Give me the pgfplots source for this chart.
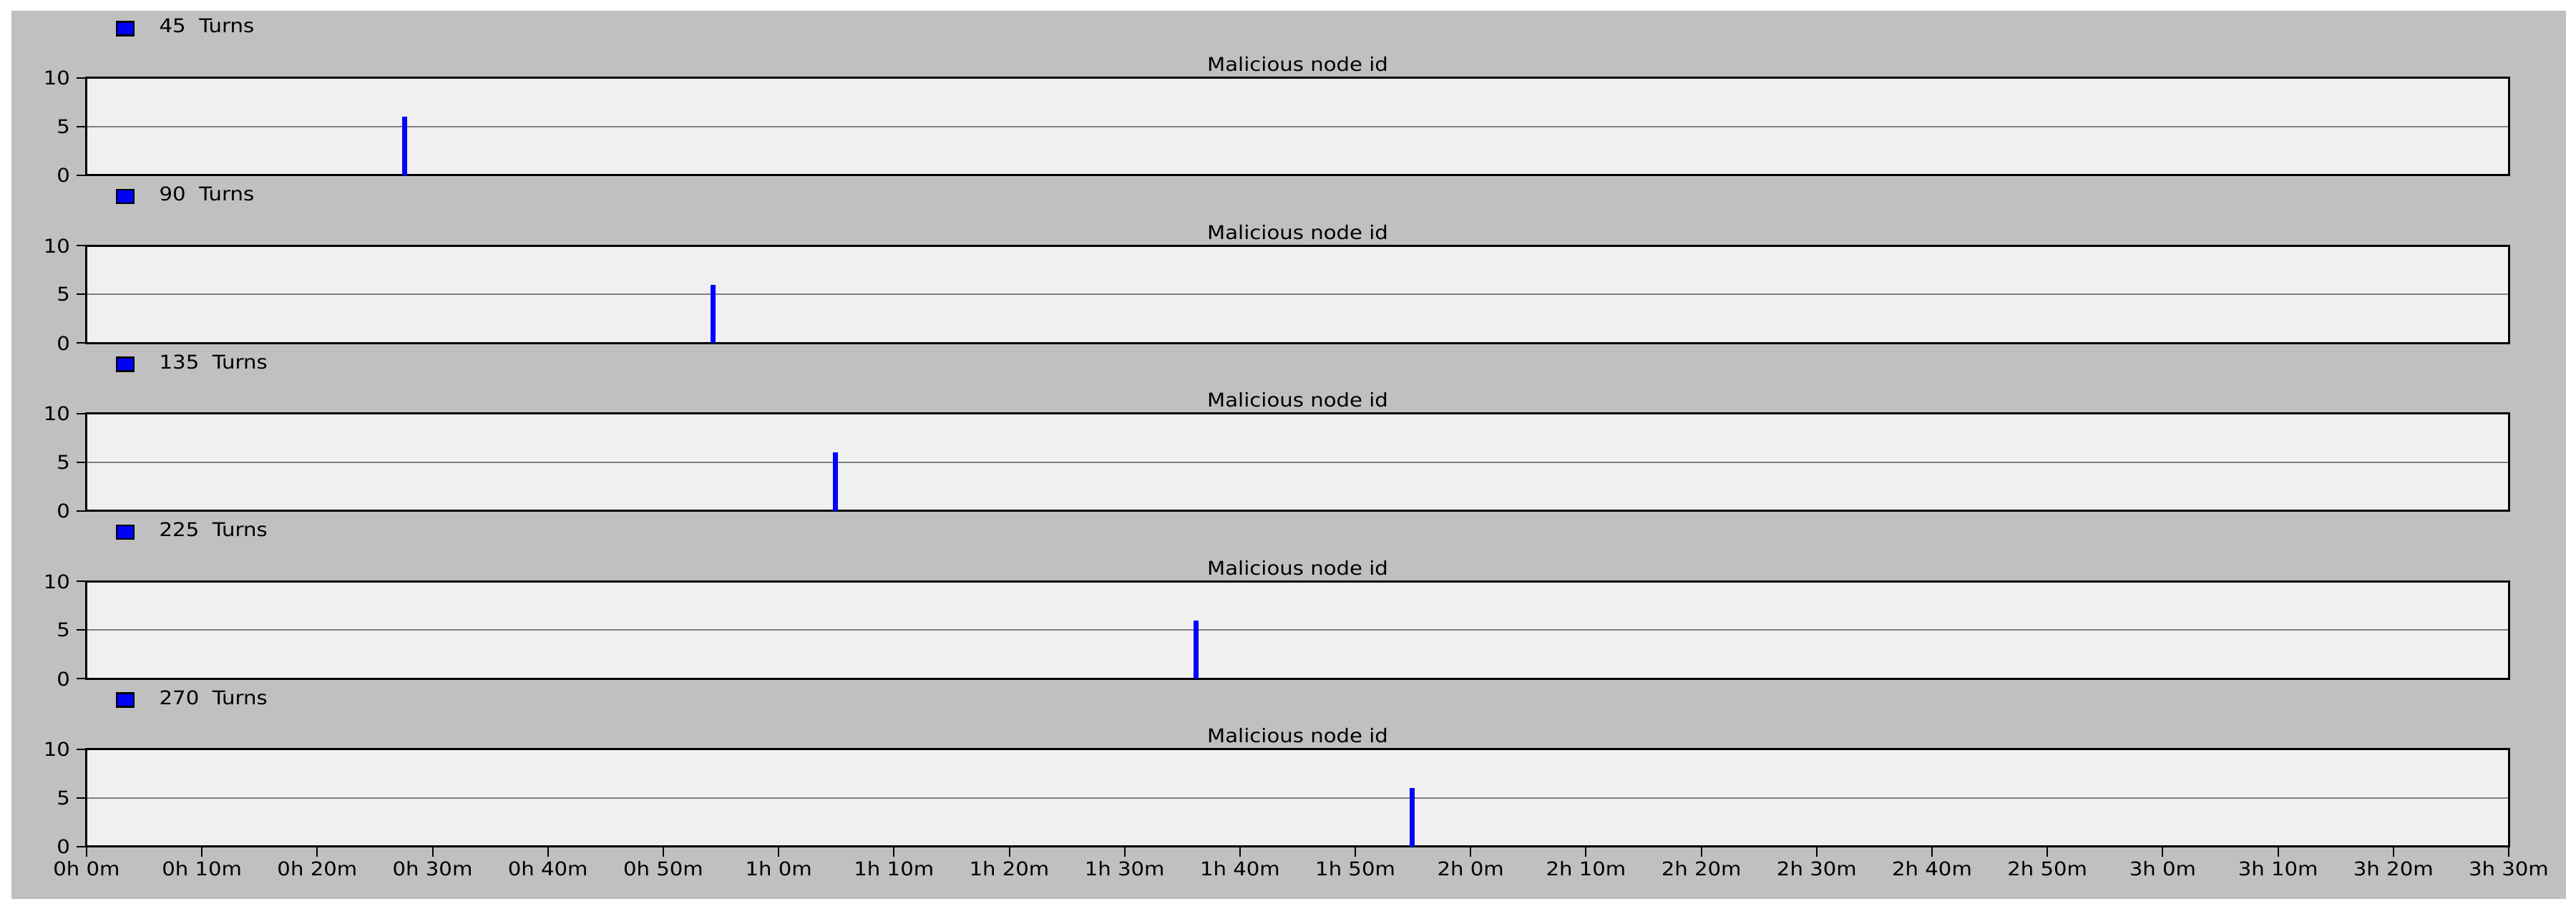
\documentclass[border=0pt]{standalone}
\usepackage{pgfplots}
\pgfplotsset{compat=1.18}
\usepackage{fontspec}
\setmainfont{DejaVu Sans}[FakeStretch=1.1]
\definecolor{bggrey}{RGB}{192,192,192}
\definecolor{plotbg}{RGB}{240,240,240}
\definecolor{gridgrey}{RGB}{128,128,128}
\newcommand\chartfont{\fontsize{5.3}{6.4}\selectfont}

\pgfplotsset{
  panel/.style={
    scale only axis, width=677pt, height=27.2pt,
    xmin=0, xmax=210, ymin=0, ymax=10,
    ytick={0,5,10},
    ymajorgrids,
    major grid style={gridgrey, line width=0.4pt},
    axis line style={black, line width=0.6pt},
    axis background/.style={fill=plotbg},
    tick style={black, line width=0.4pt},
    tick align=outside,
    ytick pos=left,
    xtick pos=bottom,
    major tick length=2.8pt,
    xtick=\empty,
    /pgf/number format/assume math mode=true,
    ticklabel style={font=\chartfont},
    yticklabel style={inner sep=1.6pt},
    title={Malicious node id},
    title style={font=\chartfont, at={(0.5,1)}, anchor=south, inner sep=0pt, yshift=-4.4pt},
    legend style={at={(0.0121,1.507)}, anchor=west, draw=none, fill=none,
      inner sep=0pt, outer sep=0pt, font=\chartfont, nodes={inner sep=0pt}},
    legend image code/.code={
      \draw[fill=blue, draw=black, line width=0.5pt] (0pt,-1.9pt) rectangle (4.8pt,1.9pt);
      \path (11.2pt,0pt);
    },
  },
  spike/.style={ycomb, blue, line width=1.4pt, mark=none},
}

\begin{document}
\begin{tikzpicture}
\useasboundingbox (0pt,0pt) rectangle (720pt,254pt);
\fill[white] (0pt,0pt) rectangle (720pt,254pt);
\fill[bggrey] (3.2pt,2.8pt) rectangle (717.2pt,251pt);

\begin{axis}[panel, at={(24.2pt,205pt)}, anchor=south west]
\addplot[spike] coordinates {(27.6,6)};
\addlegendentry{45~~Turns}
\end{axis}

\begin{axis}[panel, at={(24.2pt,158.1pt)}, anchor=south west]
\addplot[spike] coordinates {(54.3,6)};
\addlegendentry{90~~Turns}
\end{axis}

\begin{axis}[panel, at={(24.2pt,111.2pt)}, anchor=south west]
\addplot[spike] coordinates {(64.9,6)};
\addlegendentry{135~~Turns}
\end{axis}

\begin{axis}[panel, at={(24.2pt,64.3pt)}, anchor=south west]
\addplot[spike] coordinates {(96.2,6)};
\addlegendentry{225~~Turns}
\end{axis}

\begin{axis}[panel, at={(24.2pt,17.4pt)}, anchor=south west,
  xtick={0,10,...,210},
  xticklabels={0h 0m,0h 10m,0h 20m,0h 30m,0h 40m,0h 50m,1h 0m,1h 10m,1h 20m,1h 30m,1h 40m,1h 50m,2h 0m,2h 10m,2h 20m,2h 30m,2h 40m,2h 50m,3h 0m,3h 10m,3h 20m,3h 30m},
  xticklabel style={inner sep=1pt}]
\addplot[spike] coordinates {(114.9,6)};
\addlegendentry{270~~Turns}
\end{axis}
\end{tikzpicture}
\end{document}
